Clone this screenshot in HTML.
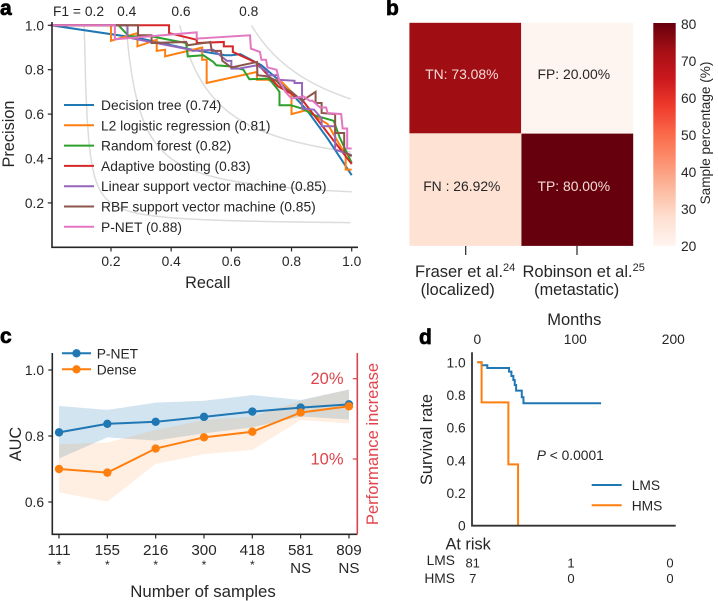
<!DOCTYPE html>
<html>
<head>
<meta charset="utf-8">
<title>Model performance figure</title>
<style>
html,body{margin:0;padding:0;background:#fff;}
svg{display:block;font-family:"Liberation Sans",Arial,sans-serif;fill:#262626;}
text{font-size:13.8px;}
.pl{font-size:21px;font-weight:bold;fill:#000;stroke:#000;stroke-width:.7px;}
.al{font-size:16.3px;}
</style>
</head>
<body>
<svg id="fig" xmlns="http://www.w3.org/2000/svg" width="718" height="601" viewBox="0 0 718 601">
  <text class="pl" x="0" y="15">a</text>
  <text class="pl" x="386" y="15">b</text>
  <text class="pl" x="0" y="343">c</text>
  <text class="pl" x="419" y="344">d</text>
  <g id="a"></g>
  <g id="b"></g>
  <g id="c"></g>
  <g id="d"></g>
</svg>
<script>
/* ---------- Panel a data ---------- */
var prNames = ['Decision tree (0.74)','L2 logistic regression (0.81)','Random forest (0.82)','Adaptive boosting (0.83)','Linear support vector machine (0.85)','RBF support vector machine (0.85)','P-NET (0.88)'];
var prColors = ['#1f77b4','#ff7f0e','#2ca02c','#d62728','#9467bd','#8c564b','#e377c2'];
var treeRecall = [0,0.3,0.47,0.58,0.6,0.63,0.7,0.76,0.85,0.92,1];
var treePrecision = [1,0.94,0.89,0.865,0.865,0.87,0.82,0.75,0.62,0.49,0.325];
var logisticRecall = [0,0.2,0.2,0.288,0.288,0.352,0.352,0.38,0.38,0.503,0.503,0.518,0.518,0.685,0.685,0.72,0.73,0.76,0.8,0.8,0.856,0.885,0.92,0.935,0.98,0.98,1];
var logisticPrecision = [1,1,0.93,0.965,0.905,0.935,0.885,0.89,0.86,0.9,0.845,0.845,0.74,0.79,0.755,0.755,0.75,0.755,0.7,0.6,0.62,0.585,0.555,0.52,0.415,0.35,0.35];
var forestRecall = [0,0.225,0.26,0.335,0.45,0.455,0.507,0.54,0.55,0.595,0.64,0.66,0.725,0.752,0.76,0.76,0.797,0.835,0.875,0.94,0.96,1];
var forestPrecision = [1,1,0.95,0.95,0.92,0.86,0.865,0.835,0.82,0.815,0.8,0.757,0.76,0.715,0.7,0.64,0.64,0.625,0.595,0.57,0.495,0.38];
var boostRecall = [0,0.393,0.393,0.485,0.485,0.575,0.575,0.605,0.605,0.685,0.755,0.835,1];
var boostPrecision = [1,1,0.965,0.935,0.92,0.925,0.905,0.905,0.88,0.83,0.725,0.665,0.375];
var linearRecall = [0,0.255,0.255,0.465,0.47,0.54,0.585,0.6,0.6,0.625,0.685,0.72,0.72,0.755,0.755,0.81,0.81,0.835,0.835,0.875,0.9,0.9,0.945,0.945,0.99,1];
var linearPrecision = [1,1,0.945,0.89,0.885,0.89,0.84,0.84,0.805,0.805,0.82,0.79,0.775,0.775,0.755,0.75,0.74,0.74,0.625,0.62,0.58,0.545,0.545,0.44,0.42,0.415];
var rbfRecall = [0,0.29,0.29,0.335,0.335,0.45,0.455,0.53,0.535,0.565,0.57,0.6,0.685,0.687,0.72,0.75,0.77,0.8,0.835,0.88,0.88,0.9,0.9,0.945,0.945,0.975,0.975,1];
var rbfPrecision = [1,1,0.955,0.955,0.92,0.925,0.91,0.925,0.885,0.885,0.84,0.81,0.835,0.775,0.77,0.75,0.72,0.7,0.66,0.7,0.65,0.65,0.605,0.6,0.515,0.515,0.43,0.41];
var pnetRecall = [0,0.213,0.213,0.485,0.485,0.662,0.665,0.695,0.7,0.715,0.72,0.75,0.76,0.78,0.8,0.84,0.86,0.87,0.895,0.915,0.92,0.965,0.97,0.985,0.985,1];
var pnetPrecision = [1,1,0.937,0.968,0.94,0.955,0.895,0.88,0.845,0.845,0.81,0.8,0.75,0.7,0.67,0.68,0.66,0.66,0.63,0.63,0.605,0.6,0.535,0.535,0.445,0.445];
var prRecalls = [treeRecall,logisticRecall,forestRecall,boostRecall,linearRecall,rbfRecall,pnetRecall];
var prPrecisions = [treePrecision,logisticPrecision,forestPrecision,boostPrecision,linearPrecision,rbfPrecision,pnetPrecision];
var prTicks = [0.2,0.4,0.6,0.8,1.0];
var f1Levels = [0.2,0.4,0.6,0.8];
var f1Labels = ['F1 = 0.2','0.4','0.6','0.8'];

/* ---------- Panel b data ---------- */
var cmLabels = ['TN: 73.08%','FP: 20.00%','FN : 26.92%','TP: 80.00%'];
var cmValues = [73.08,20,26.92,80];
var colorbarTicks = [20,30,40,50,60,70,80];
var redsRamp = ['#fff5f0','#fee0d2','#fcbba1','#fc9272','#fb6a4a','#ef3b2c','#cb181d','#a50f15','#67000d'];

/* ---------- Panel c data ---------- */
var sampleLabels = ['111','155','216','300','418','581','809'];
var significance = ['*','*','*','*','*','NS','NS'];
var pnetAuc = [0.811,0.837,0.843,0.858,0.874,0.886,0.896];
var pnetUpper = [0.891,0.879,0.901,0.907,0.924,0.909,0.941];
var pnetLower = [0.732,0.796,0.786,0.808,0.826,0.859,0.85];
var denseAuc = [0.70,0.689,0.762,0.796,0.813,0.871,0.89];
var denseUpper = [0.775,0.78,0.818,0.848,0.859,0.907,0.941];
var denseLower = [0.629,0.601,0.715,0.745,0.758,0.848,0.838];
var aucTicks = [0.6,0.8,1.0];
var increaseTicks = [10,20];

/* ---------- Panel d data ---------- */
var lmsMonths = [0,4.4,4.4,10.2,10.2,32.4,32.4,34.8,34.8,36.8,36.8,38.2,38.2,39.6,39.6,45.4,45.4,47.1,47.1,126.3];
var lmsSurvival = [1,1,0.982,0.982,0.965,0.965,0.943,0.943,0.916,0.916,0.892,0.892,0.861,0.861,0.827,0.827,0.786,0.786,0.749,0.749];
var hmsMonths = [0,4.4,4.4,31.7,31.7,41.6,41.6];
var hmsSurvival = [1,1,0.755,0.755,0.375,0.375,0];
var monthTicks = [0,100,200];
var survivalTicks = [0,0.2,0.4,0.6,0.8,1.0];
var riskLms = ['81','1','0'];
var riskHms = ['7','0','0'];

var NS = 'http://www.w3.org/2000/svg';
function add(parent, tag, attrs, txt) {
  var n = document.createElementNS(NS, tag);
  for (var k in attrs) n.setAttribute(k, attrs[k]);
  if (txt !== undefined) n.textContent = txt;
  parent.appendChild(n);
  return n;
}
function pts(xs, ys, fx, fy) {
  return xs.map(function (x, i) { return fx(x).toFixed(2) + ',' + fy(ys[i]).toFixed(2); }).join(' ');
}
var INK = '#262626';
var e;

/* ========== Panel a ========== */
var ga = document.getElementById('a');
function ax(r) { return 50.8 + r * 300.9; }
function ay(p) { return 25.3 + (1 - p) * 222; }
f1Levels.forEach(function (f, idx) {
  var xs = [], ys = [];
  for (var r = f / (2 - f) ; r <= 1.0001; r += 0.005) {
    xs.push(r);
    ys.push(f * r / (2 * r - f));
  }
  e = add(ga, 'polyline', {points: pts(xs, ys, ax, ay), fill: 'none', stroke: '#dcdcdc', 'stroke-width': 1.5});
  
  
  var lx = idx === 0 ? 53 : [0, 126.7, 181, 248.7][idx];
  e = add(ga, 'text', {x: lx, y: 16, 'text-anchor': idx === 0 ? 'start' : 'middle'}, f1Labels[idx]);
  
  
});
prNames.forEach(function (name, i) {
  e = add(ga, 'polyline', {points: pts(prRecalls[i], prPrecisions[i], ax, ay), fill: 'none', stroke: prColors[i], 'stroke-width': 2, 'stroke-linejoin': 'miter'});
  
  
  var ly = 105 + i * 20.3;
  e = add(ga, 'line', {x1: 64, x2: 94, y1: ly, y2: ly, stroke: prColors[i], 'stroke-width': 2});
  
  
  e = add(ga, 'text', {x: 101, y: ly + 5}, name);
  
  
});
e = add(ga, 'path', {d: 'M52 22V247.3H358', fill: 'none', stroke: INK, 'stroke-width': 1.6});


prTicks.forEach(function (t) {
  e = add(ga, 'line', {x1: ax(t), x2: ax(t), y1: 247.3, y2: 251.5, stroke: INK, 'stroke-width': 1.2});
  
  
  e = add(ga, 'text', {x: ax(t), y: 266, 'text-anchor': 'middle'}, t.toFixed(1));
  
  
  e = add(ga, 'line', {x1: 47.8, x2: 52, y1: ay(t), y2: ay(t), stroke: INK, 'stroke-width': 1.2});
  
  
  e = add(ga, 'text', {x: 44, y: ay(t) + 5, 'text-anchor': 'end'}, t.toFixed(1));
  
  
});
e = add(ga, 'text', {x: 207.7, y: 288, 'text-anchor': 'middle', 'class': 'al'}, 'Recall');


e = add(ga, 'text', {x: 14, y: 134, 'text-anchor': 'middle', 'class': 'al', transform: 'rotate(-90 14 134)'}, 'Precision');



/* ========== Panel b ========== */
var gb = document.getElementById('b');
function redsColor(v) {
  var t = (v - 20) / 60 * (redsRamp.length - 1);
  var i = Math.min(Math.floor(t), redsRamp.length - 2), f = t - i;
  function ch(hex, s) { return parseInt(hex.substr(s, 2), 16); }
  var o = [1, 3, 5].map(function (s) { return Math.round(ch(redsRamp[i], s) * (1 - f) + ch(redsRamp[i + 1], s) * f); });
  return 'rgb(' + o.join(',') + ')';
}
var cmX = [409.3, 521.3], cmY = [22.7, 133.5], cmW = 112, cmH = [110.8, 112.5];
cmValues.forEach(function (v, i) {
  var c = i % 2, r = Math.floor(i / 2);
  e = add(gb, 'rect', {x: cmX[c], y: cmY[r], width: cmW, height: cmH[r], fill: redsColor(v), stroke: '#fff', 'stroke-opacity': 0.35, 'stroke-width': 0.6});
  
  
  e = add(gb, 'text', {x: cmX[c] + 52.5, y: r === 0 ? 79 : 191, 'text-anchor': 'middle', style: 'font-size:13.9px;fill:' + (v > 50 ? '#f3dcd8' : '#262626')}, cmLabels[i]);
  
  
});
var defs = add(gb, 'defs', {});
var grad = add(defs, 'linearGradient', {id: 'reds', x1: 0, y1: 1, x2: 0, y2: 0});
redsRamp.forEach(function (col, i) {
  add(grad, 'stop', {offset: i / (redsRamp.length - 1), 'stop-color': col});
});
e = add(gb, 'rect', {x: 653.3, y: 23, width: 22.4, height: 223, fill: 'url(#reds)'});


colorbarTicks.forEach(function (t) {
  e = add(gb, 'text', {x: 681, y: 246 - (t - 20) / 60 * 222 + 5}, String(t));
  
  
});
e = add(gb, 'text', {x: 710, y: 133, 'text-anchor': 'middle', style: 'font-size:13.6px', transform: 'rotate(-90 710 133)'}, 'Sample percentage (%)');


[465.7, 577].forEach(function (x) {
  e = add(gb, 'line', {x1: x, x2: x, y1: 246, y2: 255, stroke: INK, 'stroke-width': 1.2});
  
  
});
function cohort(x, base, sup, name) {
  var t = add(gb, 'text', {x: x, y: 277, style: 'font-size:16.5px'}, base);
  
  
  add(t, 'tspan', {dy: -6, style: 'font-size:11px'}, sup);
}
cohort(415, 'Fraser et al.', '24', 'fraser-label');
cohort(522.5, 'Robinson et al.', '25', 'robinson-label');
e = add(gb, 'text', {x: 457.7, y: 295, 'text-anchor': 'middle', 'class': 'al'}, '(localized)');


e = add(gb, 'text', {x: 576.7, y: 295, 'text-anchor': 'middle', 'class': 'al'}, '(metastatic)');



/* ========== Panel c ========== */
var gc = document.getElementById('c');
function cx(i) { return 59 + i * 48.33; }
function cy(v) { return 370 + (1 - v) * 330; }
function band(up, lo) {
  var top = up.map(function (v, i) { return cx(i).toFixed(2) + ',' + cy(v).toFixed(2); });
  var bot = lo.map(function (v, i) { return cx(i).toFixed(2) + ',' + cy(v).toFixed(2); }).reverse();
  return top.concat(bot).join(' ');
}
e = add(gc, 'polygon', {points: band(pnetUpper, pnetLower), fill: '#1f77b4', 'fill-opacity': 0.2});


e = add(gc, 'polygon', {points: band(denseUpper, denseLower), fill: '#ff7f0e', 'fill-opacity': 0.12});


function aucSeries(vals, col, name) {
  var idx = vals.map(function (v, i) { return i; });
  var l = add(gc, 'polyline', {points: pts(idx, vals, cx, cy), fill: 'none', stroke: col, 'stroke-width': 2});
  
  
  vals.forEach(function (v, i) {
    var m = add(gc, 'circle', {cx: cx(i), cy: cy(v), r: 4.2, fill: col});
    
    
  });
}
aucSeries(pnetAuc, '#1f77b4', 'pnet');
aucSeries(denseAuc, '#ff7f0e', 'dense');
e = add(gc, 'path', {d: 'M52.3 353V534.3H357.3', fill: 'none', stroke: INK, 'stroke-width': 1.6});


e = add(gc, 'line', {x1: 357.3, x2: 357.3, y1: 353, y2: 534.3, stroke: '#d9434b', 'stroke-width': 1.6});


aucTicks.forEach(function (t) {
  e = add(gc, 'line', {x1: 48.3, x2: 52.3, y1: cy(t), y2: cy(t), stroke: INK, 'stroke-width': 1.2});
  
  
  e = add(gc, 'text', {x: 44, y: cy(t) + 5, 'text-anchor': 'end'}, t.toFixed(1));
  
  
});
increaseTicks.forEach(function (t) {
  var y = 539.3 - t * 8.03;
  e = add(gc, 'line', {x1: 352.8, x2: 357.3, y1: y, y2: y, stroke: '#d9434b', 'stroke-width': 1.2});
  
  
  e = add(gc, 'text', {x: 343.5, y: y + 5.5, 'text-anchor': 'end', style: 'font-size:16.5px;fill:#e0434b'}, t + '%');
  
  
});
sampleLabels.forEach(function (s, i) {
  e = add(gc, 'line', {x1: cx(i), x2: cx(i), y1: 534.3, y2: 538.5, stroke: INK, 'stroke-width': 1.2});
  
  
  e = add(gc, 'text', {x: cx(i), y: 555, 'text-anchor': 'middle', style: 'font-size:15.2px'}, s);
  
  
  var star = significance[i] === '*';
  e = add(gc, 'text', {x: cx(i), y: star ? 569 : 573, 'text-anchor': 'middle', style: 'font-size:' + (star ? 12 : 15.2) + 'px'}, significance[i]);
  
  
});
[['P-NET', '#1f77b4', 353.3], ['Dense', '#ff7f0e', 369.3]].forEach(function (row) {
  e = add(gc, 'line', {x1: 62, x2: 91, y1: row[2], y2: row[2], stroke: row[1], 'stroke-width': 2});
  
  
  e = add(gc, 'circle', {cx: 76.5, cy: row[2], r: 4.2, fill: row[1]});
  
  
  e = add(gc, 'text', {x: 96.7, y: row[2] + 5}, row[0]);
  
  
});
e = add(gc, 'text', {x: 203, y: 597, 'text-anchor': 'middle', style: 'font-size:16.8px'}, 'Number of samples');


e = add(gc, 'text', {x: 21, y: 444, 'text-anchor': 'middle', 'class': 'al', transform: 'rotate(-90 21 444)'}, 'AUC');


e = add(gc, 'text', {x: 378, y: 444, 'text-anchor': 'middle', style: 'font-size:16.6px;fill:#e0434b', transform: 'rotate(-90 378 444)'}, 'Performance increase');



/* ========== Panel d ========== */
var gd = document.getElementById('d');
function dx(m) { return 477.3 + m * 0.98; }
function dy(v) { return 525.7 - v * 163.4; }
e = add(gd, 'polyline', {points: pts(lmsMonths, lmsSurvival, dx, dy), fill: 'none', stroke: '#1f77b4', 'stroke-width': 2});


e = add(gd, 'polyline', {points: pts(hmsMonths, hmsSurvival, dx, dy), fill: 'none', stroke: '#ff7f0e', 'stroke-width': 2});


e = add(gd, 'path', {d: 'M472 352.3V525.7H675.7', fill: 'none', stroke: '#333', 'stroke-width': 1.8});


survivalTicks.forEach(function (t) {
  e = add(gd, 'text', {x: 465.7, y: dy(t) + 5, 'text-anchor': 'end'}, t === 0 ? '0' : t.toFixed(1));
  
  
});
monthTicks.forEach(function (t) {
  e = add(gd, 'text', {x: dx(t), y: 344, 'text-anchor': 'middle'}, String(t));
  
  
});
e = add(gd, 'text', {x: 574.3, y: 325, 'text-anchor': 'middle', style: 'font-size:16.5px'}, 'Months');


e = add(gd, 'text', {x: 432, y: 439.5, 'text-anchor': 'middle', style: 'font-size:16.4px', transform: 'rotate(-90 432 439.5)'}, 'Survival rate');


e = add(gd, 'text', {x: 536.7, y: 460});


add(e, 'tspan', {'font-style': 'italic'}, 'P');
add(e, 'tspan', {}, ' < 0.0001');
[['LMS', '#1f77b4', 485], ['HMS', '#ff7f0e', 505.3]].forEach(function (row) {
  e = add(gd, 'line', {x1: 591.7, x2: 621.7, y1: row[2], y2: row[2], stroke: row[1], 'stroke-width': 2});
  
  
  e = add(gd, 'text', {x: 631.7, y: row[2] + 5}, row[0]);
  
  
});
e = add(gd, 'text', {x: 445.5, y: 549.5, 'class': 'al'}, 'At risk');


e = add(gd, 'text', {x: 455, y: 565, 'text-anchor': 'end'}, 'LMS');


e = add(gd, 'text', {x: 455, y: 583, 'text-anchor': 'end'}, 'HMS');


[472.7, 571, 670].forEach(function (x, i) {
  e = add(gd, 'text', {x: x, y: 567.5, 'text-anchor': 'middle', style: 'font-size:13px'}, riskLms[i]);
  
  
  e = add(gd, 'text', {x: x, y: 583, 'text-anchor': 'middle', style: 'font-size:13px'}, riskHms[i]);
  
  
});
</script>
</body>
</html>
